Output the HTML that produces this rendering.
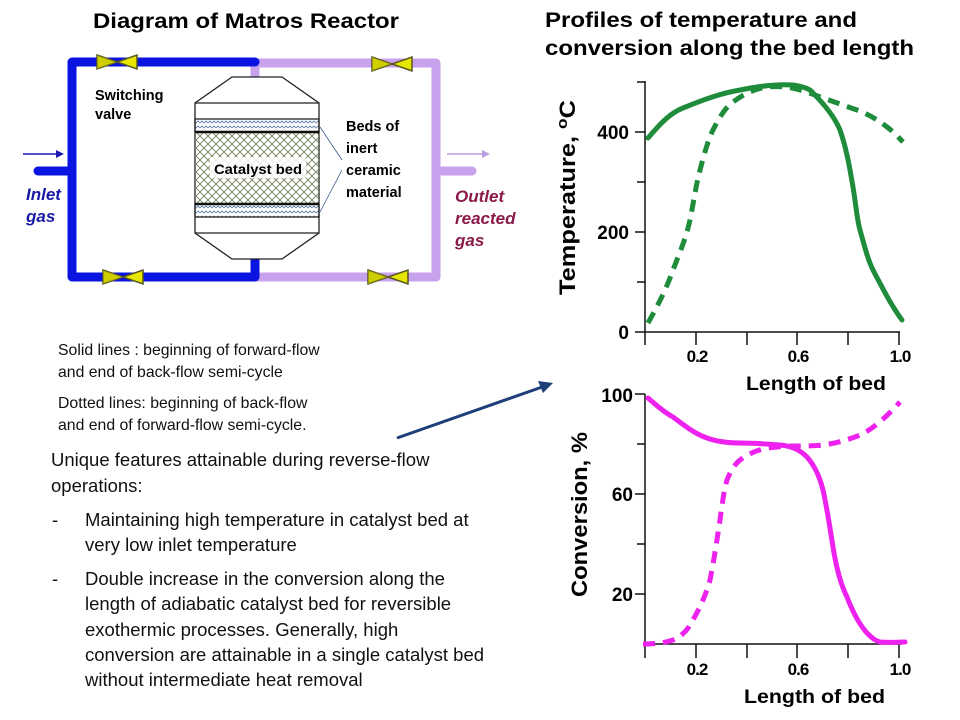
<!DOCTYPE html>
<html><head><meta charset="utf-8"><style>
body{margin:0;background:#fff;}
svg{display:block;font-family:"Liberation Sans",sans-serif;}
</style></head><body>
<svg width="960" height="720" viewBox="0 0 960 720" xmlns="http://www.w3.org/2000/svg">
<defs>
<pattern id="xh" width="8" height="8" patternUnits="userSpaceOnUse">
<path d="M0 0L8 8M8 0L0 8" stroke="#6a7a50" stroke-width="0.8"/>
</pattern>
<pattern id="wv" width="8" height="5" patternUnits="userSpaceOnUse">
<path d="M0 3L2 1L4 3L6 1L8 3" stroke="#5a7aa8" stroke-width="0.8" fill="none"/>
</pattern>
<g id="valve"><path d="M-20 -7L20 7L20 -7L-20 7Z" fill="#e6e600" stroke="#555520" stroke-width="1.5"/><path d="M-20 -7L0 0L-20 7Z" fill="#b8b800" opacity="0.5"/></g>
</defs>

<!-- titles -->
<text x="93" y="28" font-size="21" font-weight="bold" textLength="306" lengthAdjust="spacingAndGlyphs">Diagram of Matros Reactor</text>
<text x="545" y="27" font-size="21" font-weight="bold" textLength="312" lengthAdjust="spacingAndGlyphs">Profiles of temperature and</text>
<text x="545" y="55" font-size="21" font-weight="bold" textLength="369" lengthAdjust="spacingAndGlyphs">conversion along the bed length</text>

<!-- pipes -->
<g fill="none" stroke-linecap="round" stroke-linejoin="round">
<path d="M255 63H436V277H255" stroke="#c8a2ec" stroke-width="9"/>
<path d="M255 63V82" stroke="#c8a2ec" stroke-width="9"/>
<path d="M436 171H472" stroke="#c8a2ec" stroke-width="9"/>
<path d="M255 62H72V277H255V257" stroke="#0a14e0" stroke-width="9"/>
<path d="M38 171H72" stroke="#0a14e0" stroke-width="9"/>
</g>
<line x1="23" y1="154" x2="60" y2="154" stroke="#1a1ab0" stroke-width="1.5"/>
<path d="M64 154L56 150L56 158Z" fill="#1a1ab0"/>
<line x1="447" y1="154" x2="484" y2="154" stroke="#b89ce0" stroke-width="1.5"/>
<path d="M490 154L482 150L482 158Z" fill="#b89ce0"/>
<use href="#valve" x="117" y="62"/>
<use href="#valve" x="392" y="64"/>
<use href="#valve" x="123" y="277"/>
<use href="#valve" x="388" y="277"/>

<!-- reactor -->
<path d="M232 77H282L319 103V233L282 259H232L195 233V103Z" fill="#fff" stroke="#222" stroke-width="1.3"/>
<line x1="195" y1="103" x2="319" y2="103" stroke="#222" stroke-width="1.3"/>
<line x1="195" y1="233" x2="319" y2="233" stroke="#222" stroke-width="1.3"/>
<rect x="195" y="119" width="124" height="13" fill="url(#wv)" stroke="#222" stroke-width="1.3"/>
<rect x="195" y="132" width="124" height="72" fill="url(#xh)"/>
<rect x="195" y="204" width="124" height="13" fill="url(#wv)" stroke="#222" stroke-width="1.3"/>
<line x1="195" y1="132" x2="319" y2="132" stroke="#111" stroke-width="2.5"/>
<line x1="195" y1="204" x2="319" y2="204" stroke="#111" stroke-width="2.5"/>
<rect x="210" y="157" width="96" height="21" fill="#fff" opacity="0.85"/>
<text x="214" y="174" font-size="14" font-weight="bold" textLength="88" lengthAdjust="spacingAndGlyphs">Catalyst bed</text>
<line x1="320" y1="127" x2="342" y2="160" stroke="#3a5a8a" stroke-width="0.8"/>
<line x1="320" y1="212" x2="342" y2="170" stroke="#3a5a8a" stroke-width="0.8"/>

<g font-size="14.5" font-weight="bold">
<text x="95" y="100">Switching</text><text x="95" y="119">valve</text>
<text x="346" y="131">Beds of</text><text x="346" y="153">inert</text>
<text x="346" y="175">ceramic</text><text x="346" y="197">material</text>
</g>
<g font-size="17" font-weight="bold" font-style="italic">
<text x="26" y="200" fill="#1a1aa8">Inlet</text><text x="26" y="222" fill="#1a1aa8">gas</text>
<text x="455" y="202" fill="#8b1a4a">Outlet</text><text x="455" y="224" fill="#8b1a4a">reacted</text><text x="455" y="246" fill="#8b1a4a">gas</text>
</g>

<!-- left text -->
<g font-size="15.8" fill="#111">
<text x="58" y="355">Solid lines : beginning of forward-flow</text>
<text x="58" y="377">and end of back-flow semi-cycle</text>
<text x="58" y="408">Dotted lines: beginning of back-flow</text>
<text x="58" y="430">and end of forward-flow semi-cycle.</text>
</g>
<g font-size="18.5" fill="#111">
<text x="51" y="466">Unique features attainable during reverse-flow</text>
<text x="51" y="492">operations:</text>
<text x="52" y="526">-</text>
<text x="85" y="526">Maintaining high temperature in catalyst bed at</text>
<text x="85" y="551">very  low inlet temperature</text>
<text x="52" y="585">-</text>
<text x="85" y="585">Double increase in the conversion along the</text>
<text x="85" y="610">length of adiabatic catalyst bed for reversible</text>
<text x="85" y="636">exothermic processes. Generally, high</text>
<text x="85" y="661">conversion are attainable in a single catalyst bed</text>
<text x="85" y="686">without intermediate heat removal</text>
</g>
<line x1="397" y1="438" x2="545" y2="386" stroke="#1f3f7a" stroke-width="3"/>
<path d="M553 383L538 381L543 393Z" fill="#1f3f7a"/>

<!-- top chart -->
<g stroke="#111" stroke-width="1.5" fill="none">
<path d="M645 81V332H900"/>
<path d="M635 332H645M635 232H645M635 132H645M637 282H645M637 182H645M637 82H645"/>
<path d="M645 332V345M696 332V345M747 332V345M797 332V345M848 332V345M899 332V345"/>
</g>
<g font-size="19" font-weight="bold" text-anchor="end">
<text x="629" y="139">400</text><text x="629" y="239">200</text><text x="629" y="339">0</text>
</g>
<g font-size="17" font-weight="bold" text-anchor="middle" letter-spacing="-1">
<text x="697" y="362">0.2</text><text x="798" y="362">0.6</text><text x="900" y="362">1.0</text>
</g>
<text x="746" y="390" font-size="19" font-weight="bold" textLength="140" lengthAdjust="spacingAndGlyphs">Length of bed</text>
<text transform="translate(575,295) rotate(-90)" font-size="22" font-weight="bold" textLength="195" lengthAdjust="spacingAndGlyphs">Temperature, <tspan font-size="15" dy="-8">o</tspan><tspan dy="8">C</tspan></text>
<path d="M648 138C660 124 670 113 683 108C705 99 722 93 740 90C760 86 780 84 793 85C805 87 810 89 813 93C825 105 835 118 840 130C847 150 850 170 853 187C856 205 857 220 860 230C865 248 868 260 873 270C885 293 893 308 902 320" stroke="#1e8c3a" stroke-width="5" fill="none" stroke-linecap="round"/>
<path d="M648 323C658 305 666 290 673 270C680 252 686 238 690 220C694 200 696 185 700 170C704 155 708 140 713 130C720 116 726 107 733 102C745 93 755 89 767 87C780 86 790 87 800 90C810 93 815 95 823 98C835 102 845 106 857 110C870 115 878 120 887 127C895 133 899 138 903 142" stroke="#1e8c3a" stroke-width="5" fill="none" stroke-dasharray="12,8"/>

<!-- bottom chart -->
<g stroke="#111" stroke-width="1.5" fill="none">
<path d="M645 394V644H902"/>
<path d="M635 394H645M635 494H645M635 594H645M637 444H645M637 544H645"/>
<path d="M645 644V658M696 644V658M747 644V658M797 644V658M848 644V658M899 644V658"/>
</g>
<g font-size="19" font-weight="bold" text-anchor="end">
<text x="633" y="402">100</text><text x="633" y="501">60</text><text x="633" y="601">20</text>
</g>
<g font-size="17" font-weight="bold" text-anchor="middle" letter-spacing="-1">
<text x="697" y="675">0.2</text><text x="798" y="675">0.6</text><text x="900" y="675">1.0</text>
</g>
<text x="744" y="703" font-size="19" font-weight="bold" textLength="141" lengthAdjust="spacingAndGlyphs">Length of bed</text>
<text transform="translate(587,597) rotate(-90)" font-size="22" font-weight="bold" textLength="165" lengthAdjust="spacingAndGlyphs">Conversion, %</text>
<path d="M648 398C656 405 664 412 673 417C685 426 695 434 707 438C718 442 728 443 740 443C755 443 768 444 780 445C792 446 800 450 807 457C815 466 820 478 823 490C827 508 830 528 833 547C836 566 840 583 847 597C852 610 858 623 867 633C873 639 876 641 880 642C890 643 898 642 905 642" stroke="#ee22ee" stroke-width="5" fill="none" stroke-linecap="round"/>
<path d="M643 644C655 644 664 643 673 640C682 636 688 630 693 620C700 607 706 595 710 580C714 560 717 540 720 520C722 505 724 490 727 480C731 470 735 464 740 460C748 454 757 450 767 448C777 447 785 446 793 446C805 446 815 446 823 445C838 443 850 439 860 435C875 428 888 415 900 402" stroke="#ee22ee" stroke-width="5" fill="none" stroke-dasharray="12,8"/>
</svg>
</body></html>
